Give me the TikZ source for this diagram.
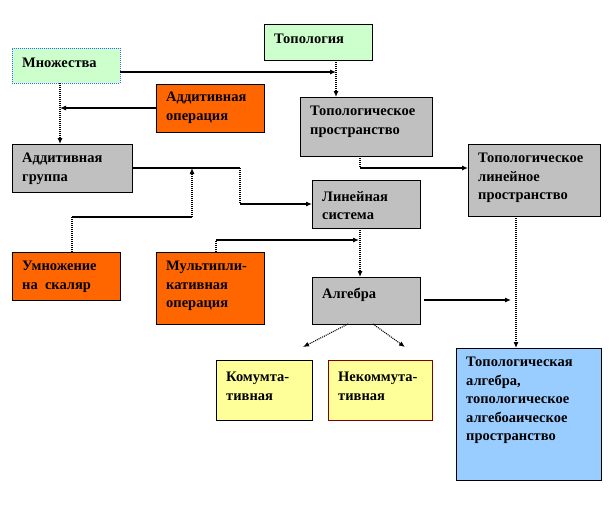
\documentclass[tikz,border=0pt]{standalone}
\usepackage{fontspec}
\setmainfont{Liberation Serif}
\usetikzlibrary{arrows.meta,calc}
\definecolor{lgreen}{HTML}{CCFFCC}
\definecolor{orng}{HTML}{FF6600}
\definecolor{gry}{HTML}{C0C0C0}
\definecolor{lyel}{HTML}{FFFF99}
\definecolor{lblue}{HTML}{99CCFF}
\definecolor{bbord}{HTML}{3366FF}
\definecolor{rbord}{HTML}{800000}
\tikzset{
  box/.style={draw=black, line width=0.8pt, rectangle, anchor=north west, inner sep=0pt, outer sep=0pt},
  txt/.style={anchor=north west, align=left, inner sep=0pt, font=\fontsize{14.5}{18.5}\selectfont\bfseries},
  sol/.style={line width=1.1pt, black},
  dot/.style={line width=1.1pt, black, dash pattern=on 1pt off 1pt},
  tip/.style={-{Latex[length=6pt,width=5pt]}},
}
\begin{document}
\begin{tikzpicture}[x=1pt,y=-1pt]
\useasboundingbox (0,0) rectangle (612,504);
% boxes
\node[box, fill=lgreen, draw=bbord, dash pattern=on 1pt off 1pt, minimum width=108pt, minimum height=35pt] (mn) at (12,48) {};
\node[txt] at ([shift={(10pt,-10pt)}]mn.north west) {Множества};
\node[box, fill=lgreen, minimum width=108pt, minimum height=36pt] (top) at (264,24) {};
\node[txt] at ([shift={(10pt,-10pt)}]top.north west) {Топология};
\node[box, fill=orng, minimum width=108pt, minimum height=48pt] (aop) at (156,84) {};
\node[txt] at ([shift={(10pt,-8pt)}]aop.north west) {Аддитивная\\операция};
\node[box, fill=gry, minimum width=132pt, minimum height=59pt] (tp) at (300,97) {};
\node[txt] at ([shift={(10pt,-9pt)}]tp.north west) {Топологическое\\пространство};
\node[box, fill=gry, minimum width=120pt, minimum height=48pt] (ag) at (12,144) {};
\node[txt] at ([shift={(10pt,-9pt)}]ag.north west) {Аддитивная\\группа};
\node[box, fill=gry, minimum width=108pt, minimum height=48pt] (ls) at (312,180) {};
\node[txt] at ([shift={(10pt,-11pt)}]ls.north west) {Линейная\\система};
\node[box, fill=gry, minimum width=132pt, minimum height=72pt] (tlp) at (468,144) {};
\node[txt] at ([shift={(10pt,-9pt)}]tlp.north west) {Топологическое\\линейное\\пространство};
\node[box, fill=orng, minimum width=108pt, minimum height=48pt] (um) at (12,252) {};
\node[txt] at ([shift={(10pt,-9pt)}]um.north west) {Умножение\\на~~скаляр};
\node[box, fill=orng, minimum width=108pt, minimum height=72pt] (mop) at (156,252) {};
\node[txt] at ([shift={(10pt,-9pt)}]mop.north west) {Мультипли-\\кативная\\операция};
\node[box, fill=gry, minimum width=108pt, minimum height=47pt] (alg) at (312,277) {};
\node[txt] at ([shift={(10pt,-11pt)}]alg.north west) {Алгебра};
\node[box, fill=lyel, minimum width=96pt, minimum height=60pt] (kom) at (216,360) {};
\node[txt] at ([shift={(10pt,-12pt)}]kom.north west) {Комумта-\\тивная};
\node[box, fill=lyel, draw=rbord, minimum width=104pt, minimum height=60pt] (nek) at (328,360) {};
\node[txt] at ([shift={(10pt,-12pt)}]nek.north west) {Некоммута-\\тивная};
\node[box, fill=lblue, minimum width=145pt, minimum height=132pt] (ta) at (456,348) {};
\node[txt] at ([shift={(10pt,-9pt)}]ta.north west) {Топологическая\\алгебра,\\топологическое\\алгебоаическое\\пространство};
% connectors
\coordinate (c1) at (336,72);
\draw[sol,tip] (mn.east |- c1) -- (c1);
\draw[dot,tip] (top.south -| c1) -- (tp.north -| c1);
\coordinate (c2) at (60,108);
\draw[sol,tip] (aop.west |- c2) -- (c2);
\draw[dot,tip] (mn.south -| c2) -- (ag.north -| c2);
\coordinate (c3) at (240,168);
\coordinate (c4) at (240,204);
\draw[sol] (ag.east |- c3) -- (c3);
\draw[dot] (c3) -- (c4);
\draw[sol,tip] (c4) -- (ls.west |- c4);
\coordinate (c5) at (72,217);
\coordinate (c6) at (192,217);
\coordinate (c7) at (192,168);
\draw[dot] (um.north -| c5) -- (c5);
\draw[sol] (c5) -- (c6);
\draw[dot,tip] (c6) -- (c7);
\coordinate (c8) at (216,240);
\coordinate (c9) at (359,240);
\draw[dot] (mop.north -| c8) -- (c8);
\draw[sol,tip] (c8) -- (c9);
\coordinate (c10) at (360,168);
\draw[dot] (tp.south -| c10) -- (c10);
\draw[sol,tip] (c10) -- (tlp.west |- c10);
\draw[dot,tip] (ls.south -| c10) -- (alg.north -| c10);
\coordinate (c11) at (424,300);
\coordinate (c12) at (511,300);
\draw[sol,tip] (c11) -- (c12);
\coordinate (c13) at (516,216);
\draw[dot,tip] (tlp.south -| c13) -- (ta.north -| c13);
\coordinate (c14) at (348,324);
\coordinate (c15) at (303,347);
\coordinate (c16) at (373,324);
\coordinate (c17) at (405,347);
\draw[dot,tip] (c14) -- (c15);
\draw[dot,tip] (c16) -- (c17);
\end{tikzpicture}
\end{document}
